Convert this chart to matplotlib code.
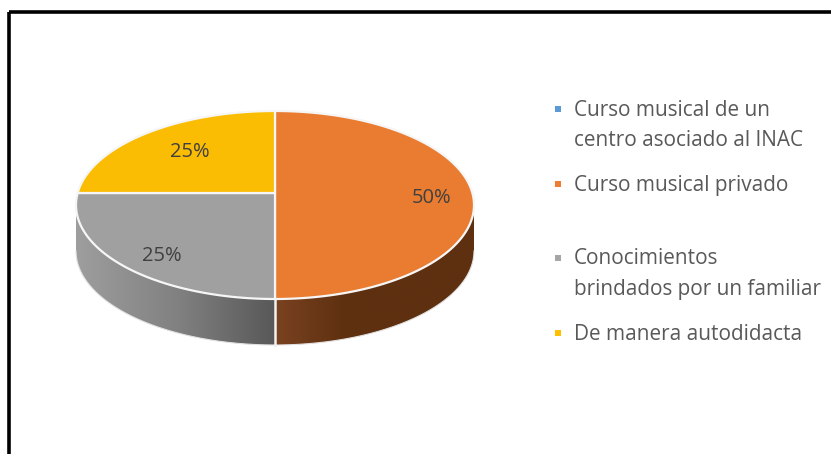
import numpy as np
import matplotlib
matplotlib.use("Agg")
import matplotlib.pyplot as plt
from matplotlib.patches import Polygon, Rectangle

categories = ["Curso musical de un\ncentro asociado al INAC", "Curso musical privado",
              "Conocimientos\nbrindados por un familiar", "De manera autodidacta"]
values = [0, 50, 25, 25]
value_labels = ["", "50%", "25%", "25%"]
top_colors = ["#5B9BD5", "#E97C30", "#A0A0A0", "#FBBC04"]
legend_colors = ["#5B9BD5", "#ED7D31", "#A5A5A5", "#FFC000"]

W, H = 831, 454
plt.rcParams["font.family"] = ["Open Sans", "DejaVu Sans"]
fig = plt.figure(figsize=(W / 100, H / 100), dpi=100, facecolor="white")
ax = fig.add_axes([0, 0, 1, 1])
ax.set_xlim(0, W)
ax.set_ylim(H, 0)
ax.axis("off")

cx, cy, rx, ry = 275.0, 205.0, 199.0, 94.0
apex_y = 193.0
depth = 46.0


def boundary_angle(theta):
    # ray from the perspective apex along pie angle theta, meeting the ellipse
    dx, dy = rx * np.sin(theta), -ry * np.cos(theta)
    oy = apex_y - cy
    a = (dx / rx) ** 2 + (dy / ry) ** 2
    b = 2 * oy * dy / ry ** 2
    c = (oy / ry) ** 2 - 1
    t = (-b + np.sqrt(b * b - 4 * a * c)) / (2 * a)
    x, y = t * dx, oy + t * dy
    return np.arctan2(x / rx, -y / ry) % (2 * np.pi)


def arc(t0, t1, shift=0.0, n=200):
    t = np.linspace(t0, t1, n)
    return np.column_stack([cx + rx * np.sin(t), cy + shift - ry * np.cos(t)])


# extruded side with gradients
def side(t0, t1, stops, x0, x1):
    pts = np.vstack([arc(t0, t1), arc(t0, t1, depth)[::-1]])
    poly = Polygon(pts, closed=True, facecolor="none", edgecolor="none", transform=ax.transData)
    ax.add_patch(poly)
    xs = np.linspace(x0, x1, 300)
    pos, cols = zip(*stops)
    rgb = np.array([matplotlib.colors.to_rgb(c) for c in cols])
    img = np.stack([np.interp(xs, np.array(pos), rgb[:, i]) for i in range(3)], axis=-1)[None, :, :]
    im = ax.imshow(img, extent=[x0, x1, cy + ry + depth + 2, cy - 2], aspect="auto", zorder=1)
    im.set_clip_path(poly)
    ax.set_xlim(0, W)
    ax.set_ylim(H, 0)


side(np.pi, 1.5 * np.pi, [(76, "#9E9E9E"), (180, "#808080"), (275, "#585858")], 76, 275)
side(0.5 * np.pi, np.pi, [(275, "#7A4220"), (345, "#5E3010"), (474, "#5E3010")], 275, 474)

# outline and top face
for t0, t1 in [(np.pi, 1.5 * np.pi), (0.5 * np.pi, np.pi)]:
    o = arc(t0, t1, depth)
    ax.plot(o[:, 0], o[:, 1], color="#E2E2E2", lw=0.8, zorder=1.5)
ax.plot([cx, cx], [cy + ry, cy + ry + depth], color="#F2F2F2", lw=1.8, zorder=2)

cum = np.cumsum([0] + values) / np.sum(values) * 2 * np.pi
apex = (cx, apex_y)
for v, col, a0, a1 in zip(values, top_colors, cum[:-1], cum[1:]):
    if v == 0:
        continue
    t0, t1 = boundary_angle(a0), boundary_angle(a1)
    if t1 <= t0:
        t1 += 2 * np.pi
    pts = np.vstack([[apex], arc(t0, t1)])
    ax.add_patch(Polygon(pts, closed=True, facecolor=col, edgecolor="#F6F6F6", lw=1.6,
                         joinstyle="round", zorder=3))

label_pos = [None, (432, 198), (162, 256), (190, 152)]
for lab, p in zip(value_labels, label_pos):
    if p:
        ax.text(p[0], p[1], lab, ha="center", va="center", fontsize=14.5, color="#404040", zorder=4)

# legend
legend_y = [109, 184, 258, 333]
for name, col, y in zip(categories, legend_colors, legend_y):
    ax.scatter([557.5], [y], marker="s", s=20, color=col, linewidths=0, zorder=4)
    for i, line in enumerate(name.split("\n")):
        ax.text(574, y + 1 + i * 30, line, ha="left", va="center", fontsize=14.95, color="#595959", zorder=4)

# black frame, running off right and bottom edges
ax.add_patch(Rectangle((8.5, 12), W + 20, H + 20, fill=False, edgecolor="black", lw=2.6, zorder=5))

fig.savefig("out.png", dpi=100)
